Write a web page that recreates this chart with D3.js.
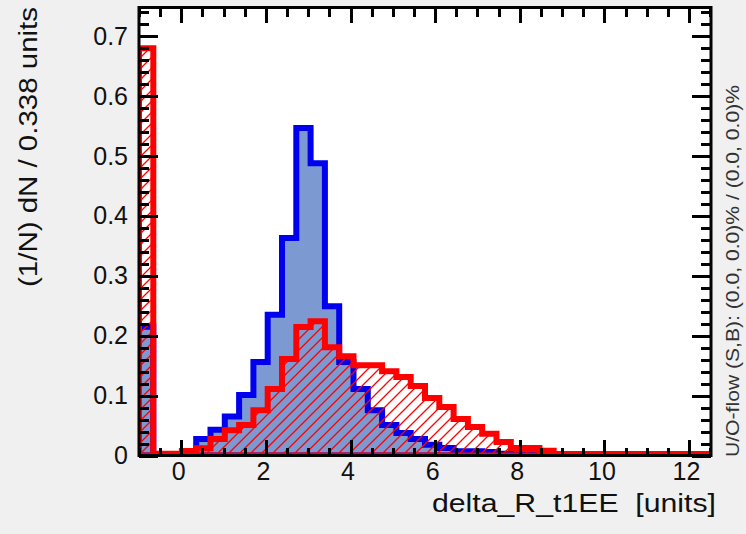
<!DOCTYPE html>
<html>
<head>
<meta charset="utf-8">
<script src="https://cdn.jsdelivr.net/npm/d3@7"></script>
<style>
  html, body { margin: 0; padding: 0; background: #f0f0f0; }
  svg { display: block; font-family: "Liberation Sans", Arial, sans-serif; }
  .tick text { fill: #111; }
</style>
</head>
<body>
<svg id="chart"></svg>
<script>
const svg = d3.select("#chart");

// Internal drawing size
const width = 746;
const height = 534;

svg.attr("width", width).attr("height", height);

// Histogram binning (x axis definition)
const xMin = -1.0;
const binWidth = 0.338;
const nBins = 40;

// Signal (blue, filled) - normalised bin contents
const signalValues = [
  0.215, 0, 0, 0, 0.0275, 0.043, 0.065, 0.101, 0.156, 0.235,
  0.363, 0.547, 0.488, 0.249, 0.156, 0.111, 0.0755, 0.051, 0.0375, 0.0275,
  0.018, 0.0125, 0.007, 0.007, 0.006, 0.003, 0.002, 0.002, 0.001, 0,
  0, 0, 0, 0, 0, 0, 0, 0, 0, 0
];

// Background (red, hatched)
const backgroundValues = [
  0.680, 0.003, 0.003, 0.0075, 0.012, 0.0275, 0.042, 0.051, 0.0755, 0.111,
  0.161, 0.2145, 0.224, 0.1806, 0.1656, 0.1506, 0.1506, 0.1406, 0.131, 0.116,
  0.096, 0.081, 0.061, 0.0476, 0.0364, 0.0225, 0.0125, 0.0125, 0.008, 0.0025,
  0.0025, 0.0025, 0.0025, 0.0025, 0.0025, 0.0025, 0.0025, 0.0025, 0.0025, 0.0025
];

const xTickValues = [0, 2, 4, 6, 8, 10, 12];
const yTickValues = [0, 0.1, 0.2, 0.3, 0.4, 0.5, 0.6, 0.7];

const xTitle = "delta_R_t1EE  [units]";
const yTitle = "(1/N) dN / 0.338 units";
const flowText = "U/O-flow (S,B): (0.0, 0.0)% / (0.0, 0.0)%";

// plot frame
const frame = { left: 139, right: 711, top: 7.5, bottom: 455.5 };

const x = d3.scaleLinear()
  .domain([xMin, xMin + nBins * binWidth])
  .range([frame.left, frame.right]);

const y = d3.scaleLinear()
  .domain([0, 0.748])
  .range([frame.bottom, frame.top]);

// canvas background + pad
svg.append("rect")
  .attr("width", width).attr("height", height)
  .attr("fill", "#f0f0f0");

svg.append("rect")
  .attr("x", frame.left).attr("y", frame.top)
  .attr("width", frame.right - frame.left)
  .attr("height", frame.bottom - frame.top)
  .attr("fill", "#fff");

const defs = svg.append("defs");

defs.append("clipPath").attr("id", "plotClip")
  .append("rect")
  .attr("x", frame.left).attr("y", frame.top)
  .attr("width", frame.right - frame.left)
  .attr("height", frame.bottom - frame.top);

// red "/" hatch
const hs = 11;
const hatch = defs.append("pattern")
  .attr("id", "hatch")
  .attr("patternUnits", "userSpaceOnUse")
  .attr("width", hs).attr("height", hs);
hatch.append("path")
  .attr("d", `M0,${hs} L${hs},0 M${-hs / 2},${hs / 2} L${hs / 2},${-hs / 2} M${hs / 2},${hs * 1.5} L${hs * 1.5},${hs / 2}`)
  .attr("stroke", "#ff0000")
  .attr("stroke-width", 1.3);

// step outline of a histogram
function histPath(values) {
  const p = d3.path();
  p.moveTo(x(xMin), y(0));
  values.forEach((v, i) => {
    const x0 = x(xMin + i * binWidth);
    const x1 = x(xMin + (i + 1) * binWidth);
    p.lineTo(x0, y(v));
    p.lineTo(x1, y(v));
  });
  p.lineTo(x(xMin + nBins * binWidth), y(0));
  p.closePath();
  return p.toString();
}

const plot = svg.append("g").attr("clip-path", "url(#plotClip)");

// signal
plot.append("path")
  .attr("d", histPath(signalValues))
  .attr("fill", "#7d99d1");
plot.append("path")
  .attr("d", histPath(signalValues))
  .attr("fill", "none")
  .attr("stroke", "#0000ee")
  .attr("stroke-width", 6)
  .attr("stroke-linejoin", "miter");

// background
plot.append("path")
  .attr("d", histPath(backgroundValues))
  .attr("fill", "url(#hatch)");
plot.append("path")
  .attr("d", histPath(backgroundValues))
  .attr("fill", "none")
  .attr("stroke", "#ff0000")
  .attr("stroke-width", 6)
  .attr("stroke-linejoin", "miter");

// -------------------------------------
// axes (ticks point into the frame)
// -------------------------------------

const xMinor = d3.range(-1, 12.6, 0.5).filter(v => v >= xMin && v % 2 !== 0);
const yMinor = d3.range(0, 0.75, 0.02).map(v => +v.toFixed(2))
  .filter(v => Math.abs(v * 10 - Math.round(v * 10)) > 1e-6);

function styleAxis(g) {
  g.select(".domain").remove();
  g.selectAll(".tick line")
    .attr("stroke", "#000")
    .attr("stroke-width", 3)
    .attr("shape-rendering", "crispEdges");
}

// bottom
svg.append("g")
  .attr("transform", `translate(0,${frame.bottom})`)
  .call(d3.axisBottom(x).tickValues(xTickValues).tickSize(-16).tickPadding(7).tickFormat(d3.format("d")))
  .call(styleAxis)
  .call(g => g.selectAll(".tick text")
    .attr("font-size", 25)
    .attr("font-family", "Liberation Sans, Arial, sans-serif")
    .attr("dx", -3));
svg.append("g")
  .attr("transform", `translate(0,${frame.bottom})`)
  .call(d3.axisBottom(x).tickValues(xMinor).tickSize(-8).tickFormat(""))
  .call(styleAxis);

// top
svg.append("g")
  .attr("transform", `translate(0,${frame.top})`)
  .call(d3.axisTop(x).tickValues(xTickValues).tickSize(-15).tickFormat(""))
  .call(styleAxis);
svg.append("g")
  .attr("transform", `translate(0,${frame.top})`)
  .call(d3.axisTop(x).tickValues(xMinor).tickSize(-9).tickFormat(""))
  .call(styleAxis);

// left
svg.append("g")
  .attr("transform", `translate(${frame.left},0)`)
  .call(d3.axisLeft(y).tickValues(yTickValues).tickSize(-19).tickPadding(11).tickFormat(d => d === 0 ? "0" : d3.format(".1f")(d)))
  .call(styleAxis)
  .call(g => g.selectAll(".tick text")
    .attr("font-size", 25)
    .attr("font-family", "Liberation Sans, Arial, sans-serif"));
svg.append("g")
  .attr("transform", `translate(${frame.left},0)`)
  .call(d3.axisLeft(y).tickValues(yMinor).tickSize(-10).tickFormat(""))
  .call(styleAxis);

// right
svg.append("g")
  .attr("transform", `translate(${frame.right},0)`)
  .call(d3.axisRight(y).tickValues(yTickValues).tickSize(-19).tickFormat(""))
  .call(styleAxis);
svg.append("g")
  .attr("transform", `translate(${frame.right},0)`)
  .call(d3.axisRight(y).tickValues(yMinor).tickSize(-10).tickFormat(""))
  .call(styleAxis);

// frame
svg.append("rect")
  .attr("x", frame.left).attr("y", frame.top)
  .attr("width", frame.right - frame.left)
  .attr("height", frame.bottom - frame.top)
  .attr("fill", "none")
  .attr("stroke", "#000")
  .attr("stroke-width", 3);

// titles
svg.append("text")
  .attr("x", 432).attr("y", 512)
  .attr("font-size", 25)
  .attr("fill", "#111")
  .attr("textLength", 284)
  .attr("lengthAdjust", "spacingAndGlyphs")
  .style("white-space", "pre")
  .text(xTitle);

svg.append("text")
  .attr("transform", "translate(37,287) rotate(-90)")
  .attr("font-size", 25)
  .attr("fill", "#111")
  .attr("textLength", 280)
  .attr("lengthAdjust", "spacingAndGlyphs")
  .text(yTitle);

svg.append("text")
  .attr("transform", "translate(739,457) rotate(-90)")
  .attr("font-size", 18)
  .attr("fill", "#333")
  .attr("textLength", 372)
  .attr("lengthAdjust", "spacingAndGlyphs")
  .text(flowText);
</script>
</body>
</html>
